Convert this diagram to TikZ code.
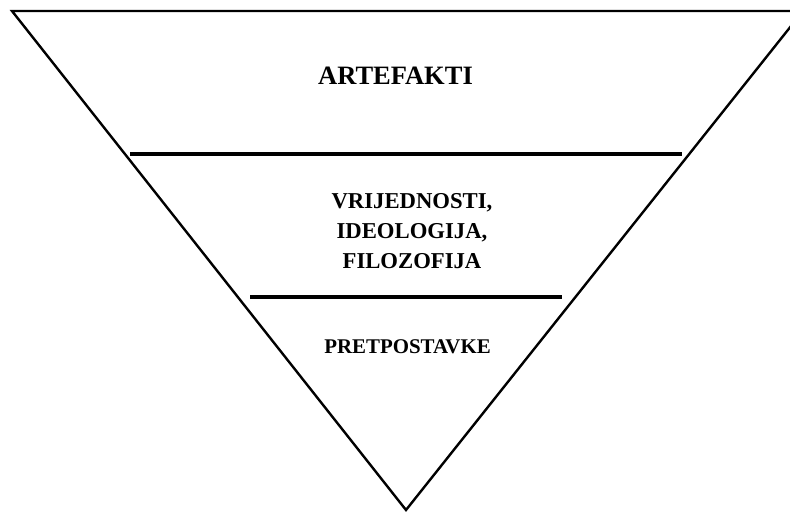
\documentclass[tikz,border=0pt]{standalone}
\usepackage{fontspec}
\setmainfont{Liberation Serif}

\tikzset{
  edge/.style={line width=2.4pt, line join=miter},
  level/.style={line width=4pt},
  label/.style={anchor=base, inner sep=0pt, font=\bfseries, align=center}
}

\begin{document}
\begin{tikzpicture}[x=1pt, y=-1pt]
        \useasboundingbox (0,0) rectangle (790,512);
        \clip (0,0) rectangle (790,512);
        \coordinate(tl) at (12,11);
        \coordinate(tr) at (803,11);
        \coordinate(apex) at (406,510);
        \draw[edge](tr)--(tl)--(apex)--cycle;
        \coordinate(a1) at (130,154);
        \coordinate(b1) at (682,154);
        \coordinate(a2) at (250,297);
        \coordinate(b2) at (562,297);
        \draw[level](a1)--(b1);
        \draw[level](a2)--(b2);
        \node[label, font=\bfseries\fontsize{26.5}{30}\selectfont](art) at (395.5,84) {ARTEFAKTI};
        \node[label, font=\bfseries\fontsize{22.7}{30}\selectfont](vri) at (412,268) {VRIJEDNOSTI,\\IDEOLOGIJA,\\FILOZOFIJA};
        \node[label, font=\bfseries\fontsize{20.9}{25}\selectfont](pre) at (407.5,353) {PRETPOSTAVKE};
        \end{tikzpicture}
\end{document}
